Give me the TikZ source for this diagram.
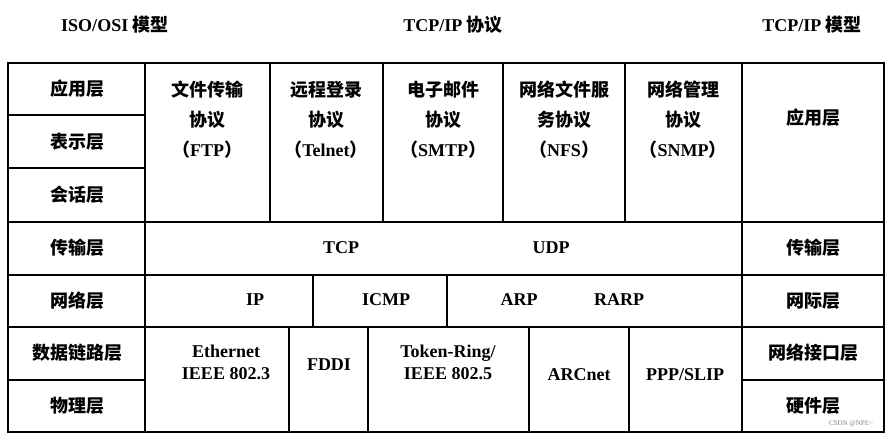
\documentclass[tikz,border=0pt]{standalone}
\usepackage{fontspec}
\setmainfont{Liberation Serif}
\newfontfamily\cjk{Noto Sans CJK SC}
\newcommand\zh[1]{{\cjk #1}}
\begin{document}
\begin{tikzpicture}[x=1pt,y=-1pt,
  every node/.style={font=\fontsize{18}{30}\selectfont\bfseries, align=center, inner sep=0pt},
  cell/.style={draw=black, line width=1.1pt}]
\useasboundingbox (0,0) rectangle (891,437);
% outer frame and left/right columns
\draw[cell] (8,63) rectangle (884,432);
\foreach \y in {115,168,222,275,327,380} \draw[cell] (8,\y) -- (145,\y);
\draw[cell] (145,63) -- (145,432);
\draw[cell] (742,63) -- (742,432);
\foreach \y in {222,275,327,380} \draw[cell] (742,\y) -- (884,\y);
\draw[cell] (145,222) -- (742,222);
\draw[cell] (145,275) -- (742,275);
\draw[cell] (145,327) -- (742,327);
\foreach \x in {270,383,503,625} \draw[cell] (\x,63) -- (\x,222);
\foreach \x in {313,447} \draw[cell] (\x,275) -- (\x,327);
\foreach \x in {289,368,529,629} \draw[cell] (\x,327) -- (\x,432);
% headers
\node (h1) at (115,25) {ISO/OSI \zh{模型}};
\node (h2) at (453,25) {TCP/IP \zh{协议}};
\node (h3) at (812,25) {TCP/IP \zh{模型}};
% left column
\node (l1) at (77,89) {\zh{应用层}};
\node (l2) at (77,142) {\zh{表示层}};
\node (l3) at (77,195) {\zh{会话层}};
\node (l4) at (77,248) {\zh{传输层}};
\node (l5) at (77,301) {\zh{网络层}};
\node (l6) at (77,353) {\zh{数据链路层}};
\node (l7) at (77,406) {\zh{物理层}};
% right column
\node (r1) at (813,118) {\zh{应用层}};
\node (r2) at (813,248) {\zh{传输层}};
\node (r3) at (813,301) {\zh{网际层}};
\node (r4) at (813,353) {\zh{网络接口层}};
\node (r5) at (813,406) {\zh{硬件层}};
% application protocols
\node (a1) at (207,120) {\zh{文件传输}\\\zh{协议}\\\zh{（}FTP\zh{）}};
\node (a2) at (326,120) {\zh{远程登录}\\\zh{协议}\\\zh{（}Telnet\zh{）}};
\node (a3) at (443,120) {\zh{电子邮件}\\\zh{协议}\\\zh{（}SMTP\zh{）}};
\node (a4) at (564,120) {\zh{网络文件服}\\\zh{务协议}\\\zh{（}NFS\zh{）}};
\node (a5) at (683,120) {\zh{网络管理}\\\zh{协议}\\\zh{（}SNMP\zh{）}};
% transport
\node (tcp) at (341,248) {TCP};
\node (udp) at (551,248) {UDP};
% network
\node (ip) at (255,300) {IP};
\node (icmp) at (386,300) {ICMP};
\node (arp) at (519,300) {ARP};
\node (rarp) at (619,300) {RARP};
% link
\node (eth) at (226,362) {Ethernet\\[-8pt]IEEE 802.3};
\node (fddi) at (329,365) {FDDI};
\node (tok) at (448,362) {Token-Ring/\\[-8pt]IEEE 802.5};
\node (arc) at (579,375) {ARCnet};
\node (ppp) at (685,375) {PPP/SLIP};
\node[font=\fontsize{7}{8}\selectfont, text=gray] (wm) at (851,424) {CSDN @NPE\textasciitilde};
\end{tikzpicture}
\end{document}
